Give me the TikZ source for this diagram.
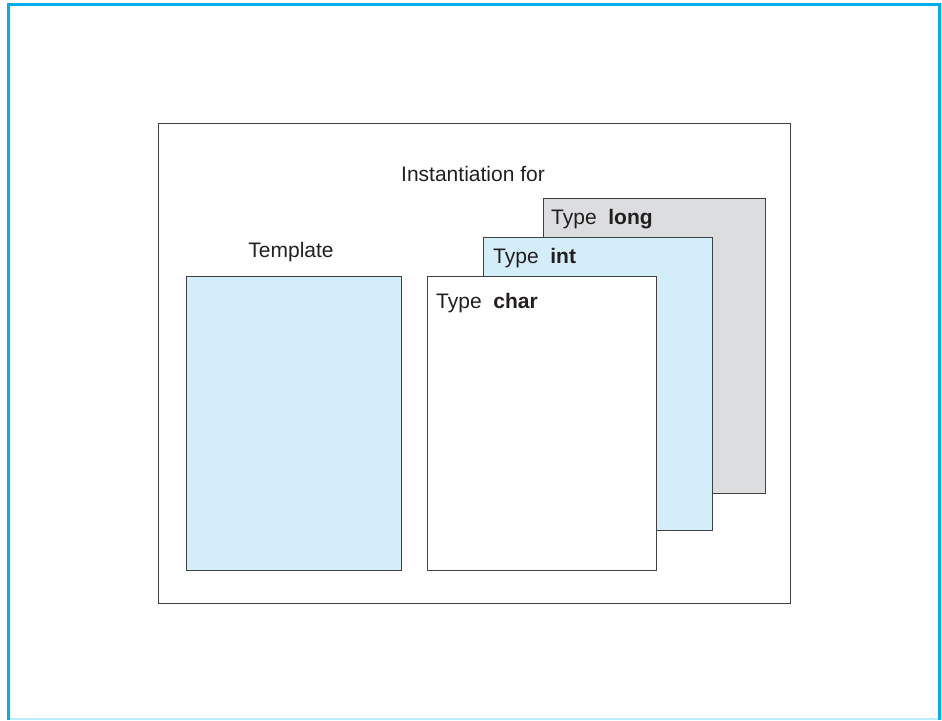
\documentclass[tikz,border=0pt]{standalone}
\usepackage{fontspec}
\setmainfont{Liberation Sans}
\usetikzlibrary{positioning}
\definecolor{framecyan}{RGB}{0,174,239}
\definecolor{paleblue}{RGB}{211,237,249}
\definecolor{panelgray}{RGB}{220,221,223}
\definecolor{edgegray}{RGB}{65,65,65}
\definecolor{inkgray}{RGB}{35,31,32}

\begin{document}
\begin{tikzpicture}[x=1pt, y=-1pt,
        sheet/.style={draw=edgegray, line width=1.3pt, anchor=north west, inner sep=0pt},
        caption/.style={font=\fontsize{21}{24}\selectfont, text=inkgray, inner sep=0pt}]
    \useasboundingbox (0,0) rectangle (942,720);
    % outer frame
    \draw[framecyan!25, line width=1.5pt] (8,719) -- (939,719);
    \draw[framecyan, line width=3pt] (8,720) -- (8,4) -- (939,4) -- (939,720);
    \node[sheet, minimum width=632pt, minimum height=480pt] (panel) at (158,123) {};
    % template side
    \node[sheet, fill=paleblue, minimum width=215pt, minimum height=294pt] (tmpl) at (186,276) {};
    \node[caption] (tmpllabel) at (291,252) {Template};
    % instantiations, back to front
    \foreach \n/\x/\y/\w/\h/\c in {long/543/198/222/295/panelgray, int/483/237/229/293/paleblue, char/427/276/229/294/white} {
        \node[sheet, fill=\c, minimum width=\w pt, minimum height=\h pt] (\n) at (\x,\y) {};
    }
    \node[caption, anchor=west] (longlabel) at (551,219) {Type\ \ \textbf{long}};
    \node[caption, anchor=west] (intlabel) at (493,258) {Type\ \ \textbf{int}};
    \node[caption, anchor=west] (charlabel) at (436,303) {Type\ \ \textbf{char}};
    \node[caption] (instlabel) at (473,174) {Instantiation for};
\end{tikzpicture}
\end{document}
